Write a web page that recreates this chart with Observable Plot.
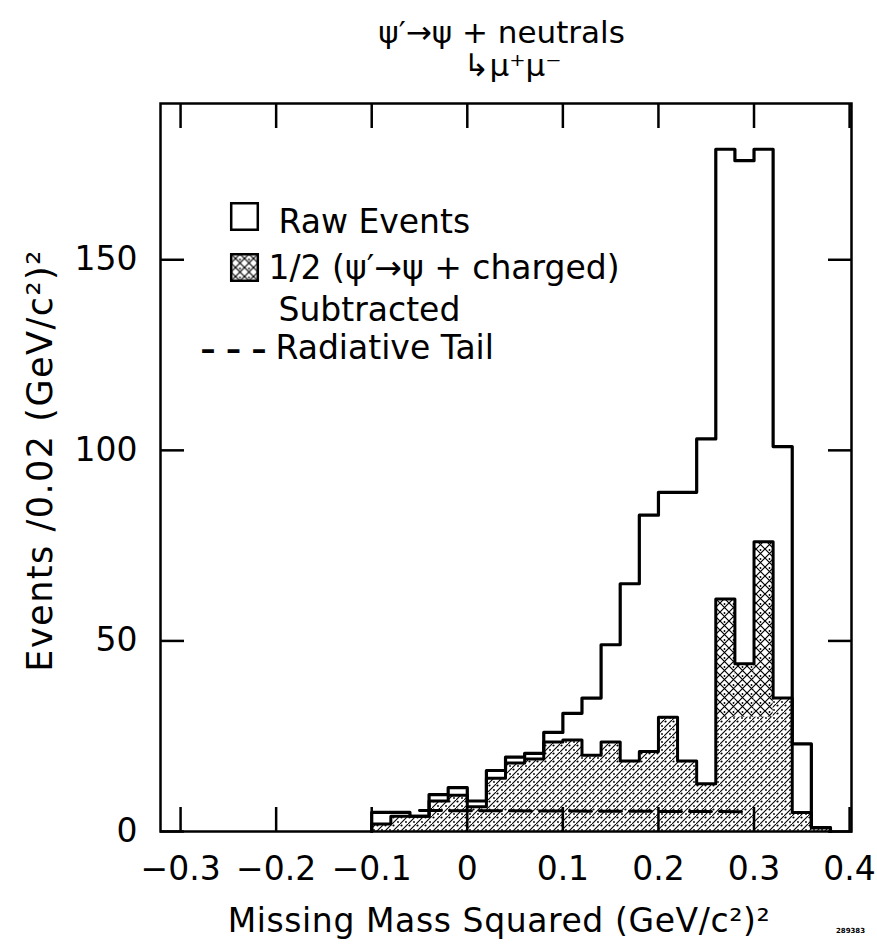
<!DOCTYPE html>
<html><head><meta charset="utf-8">
<script src="https://cdn.jsdelivr.net/npm/d3@7"></script>
<script src="https://cdn.jsdelivr.net/npm/@observablehq/plot@0.6"></script>
<style>html,body{margin:0;padding:0;background:#fff;} svg{display:block;}</style>
</head><body><div id="chart"></div>
<script>
// ---- data ----
const binStart = [-0.10,-0.08,-0.06,-0.04,-0.02,0.00,0.02,0.04,0.06,0.08,0.10,0.12,0.14,0.16,0.18,0.20,0.22,0.24,0.26,0.28,0.30,0.32,0.34,0.36];
const binWidth = 0.02;
const rawEvents  = [5,5,4,9.7,11.5,8,16,19.5,20.5,26,31,35,49,65,83,89,89,103,179,176,179,101,23,1];
const subtracted = [2,4,4,8,9.5,6.5,14,18,19,23.5,24,20,23.5,18.5,21,30,18.5,12.5,61,44,76,35,5,1];
const tailX = [-0.05, 0.29];
const tailY = [5.5, 5.2];
const crossBinStart = [0.26, 0.28, 0.30];
const crossFloor = 30;
const xTicks = [-0.3,-0.2,-0.1,0,0.1,0.2,0.3,0.4];
const yTicks = [0,50,100,150];

const titleText = "ψ′→ψ + neutrals";
const subTitleText = "↳μ⁺μ⁻";
const xLabel = "Missing Mass Squared (GeV/c²)²";
const yLabel = "Events /0.02 (GeV/c²)²";
const legendLabels = ["Raw Events", "1/2 (ψ′→ψ + charged)", "Subtracted", "Radiative Tail"];
const figCode = "289383";

// ---- derived tables ----
const bins = binStart.map((x, i) => ({x1: x, x2: +(x + binWidth).toFixed(2), raw: rawEvents[i], sub: subtracted[i]}));
function stepPoints(key) {
  const pts = [{x: bins[0].x1, y: 0}];
  for (const b of bins) pts.push({x: b.x1, y: b[key]});
  const last = bins[bins.length - 1];
  pts.push({x: last.x2, y: last[key]});
  pts.push({x: last.x2, y: 0});
  return pts;
}
const rawPts = stepPoints("raw");
const subPts = stepPoints("sub");
const tail = tailX.map((x, i) => ({x, y: tailY[i]}));
const crossBins = bins.filter(b => crossBinStart.some(c => Math.abs(c - b.x1) < 1e-9));

const FONT = "DejaVu Sans";
const fmtX = d => d === 0 ? "0" : (d < 0 ? "−" : "") + Math.abs(d).toFixed(1);

const plot = Plot.plot({
  width: 877,
  height: 948,
  marginLeft: 160,
  marginRight: 26,
  marginTop: 103,
  marginBottom: 117,
  x: {domain: [-0.321, 0.402], label: null},
  y: {domain: [0, 191], label: null},
  style: {fontFamily: FONT, fontSize: "30px", background: "white", color: "black"},
  marks: [
    Plot.areaY(subPts, {x: "x", y: "y", curve: "step-after", fill: "url(#hatch)"}),
    Plot.rect(crossBins, {x1: "x1", x2: "x2", y1: crossFloor, y2: "sub", fill: "url(#cross)"}),
    Plot.line(subPts, {x: "x", y: "y", curve: "step-after", stroke: "black", strokeWidth: 3}),
    Plot.line(tail, {x: "x", y: "y", stroke: "black", strokeWidth: 3, strokeDasharray: "22,8"}),
    Plot.line(rawPts, {x: "x", y: "y", curve: "step-after", stroke: "black", strokeWidth: 3.2}),
    Plot.frame({stroke: "black", strokeWidth: 2.5}),
    Plot.axisX(xTicks, {anchor: "bottom", tickSize: -24, tickPadding: 49, strokeWidth: 2.5, fontSize: 33, tickFormat: fmtX, label: null}),
    Plot.axisX(xTicks, {anchor: "top", tickSize: -24, strokeWidth: 2.5, tickFormat: () => "", label: null}),
    Plot.axisY(yTicks, {anchor: "left", tickSize: -24, tickPadding: 47, strokeWidth: 2.5, fontSize: 33, label: null}),
    Plot.axisY(yTicks, {anchor: "right", tickSize: -24, strokeWidth: 2.5, tickFormat: () => "", label: null}),
    // titles
    Plot.text([titleText], {frameAnchor: "top-left", dx: 341, dy: -61, textAnchor: "middle", lineAnchor: "bottom", fontSize: 31}),
    Plot.text([subTitleText], {frameAnchor: "top-left", dx: 303, dy: -28, textAnchor: "start", lineAnchor: "bottom", fontSize: 31}),
    Plot.text([xLabel], {frameAnchor: "bottom", dx: -7, dy: 100, textAnchor: "middle", lineAnchor: "bottom", fontSize: 33}),
    Plot.text([yLabel], {frameAnchor: "left", dx: -120, dy: -7, rotate: -90, textAnchor: "middle", lineAnchor: "middle", fontSize: 35}),
    Plot.text([figCode], {frameAnchor: "bottom-right", dx: -1, dy: 101, textAnchor: "middle", lineAnchor: "bottom", fontSize: 7, fontWeight: "bold"}),
    // legend
    Plot.dot([legendLabels[0]], {frameAnchor: "top-left", dx: 84, dy: 113, symbol: "square", r: 15, fill: "white", stroke: "black", strokeWidth: 2.5}),
    Plot.dot([legendLabels[1]], {frameAnchor: "top-left", dx: 84, dy: 164, symbol: "square", r: 15, fill: "url(#cross)", stroke: "black", strokeWidth: 2.5}),
    Plot.text([legendLabels[0]], {frameAnchor: "top-left", dx: 118, dy: 129, textAnchor: "start", lineAnchor: "bottom", fontSize: 33}),
    Plot.text([legendLabels[1]], {frameAnchor: "top-left", dx: 108, dy: 175, textAnchor: "start", lineAnchor: "bottom", fontSize: 33}),
    Plot.text([legendLabels[2]], {frameAnchor: "top-left", dx: 118, dy: 217, textAnchor: "start", lineAnchor: "bottom", fontSize: 33}),
    Plot.text(["– – –"], {frameAnchor: "top-left", dx: 40, dy: 255, textAnchor: "start", lineAnchor: "bottom", fontSize: 30, fontWeight: "bold"}),
    Plot.text([legendLabels[3]], {frameAnchor: "top-left", dx: 115, dy: 255, textAnchor: "start", lineAnchor: "bottom", fontSize: 33})
  ]
});

// text spacing tweak for the long axis titles (styling only)
d3.select(plot).selectAll("text").filter(function() { return this.textContent === yLabel; }).style("letter-spacing", "1.5px");
d3.select(plot).selectAll("text").filter(function() { return this.textContent === xLabel; }).style("letter-spacing", "0.6px");

// fill patterns (styling only)
const defs = d3.select(plot).insert("defs", ":first-child");
const hatch = defs.append("pattern").attr("id", "hatch").attr("patternUnits", "userSpaceOnUse").attr("width", 8).attr("height", 8);
hatch.append("rect").attr("width", 8).attr("height", 8).attr("fill", "white");
hatch.append("path").attr("d", "M-1,9 L9,-1").attr("stroke", "black").attr("stroke-width", 1.1);
hatch.append("circle").attr("cx", 1.5).attr("cy", 1.5).attr("r", 1.1).attr("fill", "black");
hatch.append("circle").attr("cx", 6).attr("cy", 6).attr("r", 0.9).attr("fill", "black");
const cross = defs.append("pattern").attr("id", "cross").attr("patternUnits", "userSpaceOnUse").attr("width", 9).attr("height", 9);
cross.append("rect").attr("width", 9).attr("height", 9).attr("fill", "white");
cross.append("path").attr("d", "M-1,10 L10,-1 M-1,-1 L10,10").attr("stroke", "black").attr("stroke-width", 1.2);
cross.append("circle").attr("cx", 4.5).attr("cy", 1).attr("r", 0.9).attr("fill", "black");

document.getElementById("chart").appendChild(plot);
</script>
</body></html>
